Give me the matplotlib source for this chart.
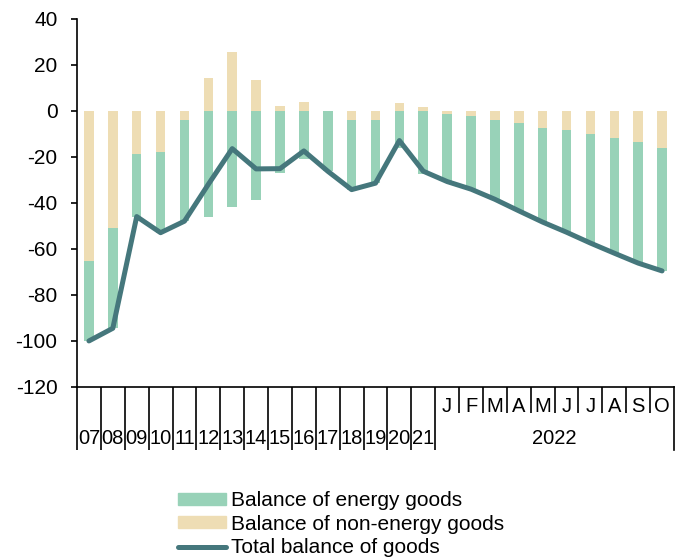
import numpy as np
import matplotlib
matplotlib.use("Agg")
from matplotlib import pyplot as plt
from matplotlib.lines import Line2D
from matplotlib.patches import Patch
import matplotlib.transforms as mtransforms

plt.rcParams['font.family'] = ['Liberation Sans', 'DejaVu Sans']
plt.rcParams['axes.unicode_minus'] = False

years = ['07', '08', '09', '10', '11', '12', '13', '14', '15', '16', '17', '18', '19', '20', '21']
months = ['J', 'F', 'M', 'A', 'M', 'J', 'J', 'A', 'S', 'O']
month_year = '2022'

energy = [-34.5, -43.5, -27.0, -35.0, -44.0, -46.0, -42.0, -38.8, -27.2, -21.1, -26.3, -30.3, -27.5,
          -16.3, -27.7, -29.5, -31.9, -34.4, -38.1, -41.0, -44.4, -47.4, -50.0, -52.6, -53.5]
non_energy = [-65.5, -51.0, -19.0, -18.0, -4.0, 14.1, 25.3, 13.4, 2.0, 3.6, 0.0, -4.0, -4.0,
              3.3, 1.4, -1.3, -2.2, -4.1, -5.4, -7.4, -8.4, -10.1, -11.9, -13.6, -16.1]
total = [-100.0, -94.5, -46.0, -53.0, -48.0, -32.0, -16.5, -25.3, -25.2, -17.5, -26.3, -34.3, -31.5,
         -13.0, -26.3, -30.8, -34.1, -38.5, -43.5, -48.4, -52.8, -57.5, -61.9, -66.2, -69.6]

green = '#98D2B8'
beige = '#EEDDB4'
line_col = '#45777C'
fs = 15

n = len(energy)
x = np.arange(n)
energy = np.array(energy)
non_energy = np.array(non_energy)
# excel-like stacking: negatives stack on negatives
bottom_en = np.where((non_energy < 0) & (energy < 0), non_energy, 0)

fig = plt.figure(figsize=(6.81, 5.60), dpi=100)
ax = fig.add_axes([77 / 681, 1 - 387 / 560, (674 - 77) / 681, (387 - 18.5) / 560])

ax.bar(x, non_energy, width=0.4, color=beige, zorder=2)
ax.bar(x, energy, width=0.4, bottom=bottom_en, color=green, zorder=2)
ax.plot(x, total, color=line_col, lw=3.6, solid_joinstyle='round', solid_capstyle='round', zorder=3)

ax.set_xlim(-0.5, n - 0.5)
ax.set_ylim(-120, 40)
ax.set_yticks(np.arange(-120, 41, 20))
ax.tick_params(axis='y', direction='out', length=4, width=1.2, labelsize=fs, pad=10)
for s in ['top', 'right']:
    ax.spines[s].set_visible(False)
for s in ['left', 'bottom']:
    ax.spines[s].set_linewidth(1.2)

# category separators
ny = len(years)
ax.set_xticks(np.arange(0, ny + 1) - 0.5)
ax.set_xticks(np.arange(ny + 1, n) - 0.5, minor=True)
ax.set_xticklabels([])
ax.tick_params(axis='x', which='major', direction='out', length=45, width=1.2)
ax.tick_params(axis='x', which='minor', direction='out', length=19, width=1.2)
# right end line
trans = mtransforms.blended_transform_factory(ax.transData, ax.transAxes)
ax.plot([n - 0.5, n - 0.5], [0, -63 / 368.5], transform=trans, color='black', lw=1.2, clip_on=False)

off = mtransforms.ScaledTranslation(0, -51 / 100, fig.dpi_scale_trans)
for i, lab in enumerate(years):
    ax.text(i, 0, lab, transform=trans + off, ha='center', va='center', fontsize=14.5)
off_m = mtransforms.ScaledTranslation(0, -19 / 100, fig.dpi_scale_trans)
for j, lab in enumerate(months):
    ax.text(ny + j, 0, lab, transform=trans + off_m, ha='center', va='center', fontsize=14.5)
ax.text(ny + (len(months) - 1) / 2, 0, month_year, transform=trans + off, ha='center', va='center',
        fontsize=14.5)

handles = [Patch(color=green, label='Balance of energy goods'),
           Patch(color=beige, label='Balance of non-energy goods'),
           Line2D([], [], color=line_col, lw=3.6, solid_capstyle='round', label='Total balance of goods')]
fig.legend(handles=handles, loc='upper left', bbox_to_anchor=(178 / 681, 1 - 491 / 560), frameon=False,
           fontsize=fs, borderpad=0, borderaxespad=0, labelspacing=0.22, handlelength=2.3,
           handleheight=0.5, handletextpad=0.25)

fig.savefig('out.png', dpi=100)
